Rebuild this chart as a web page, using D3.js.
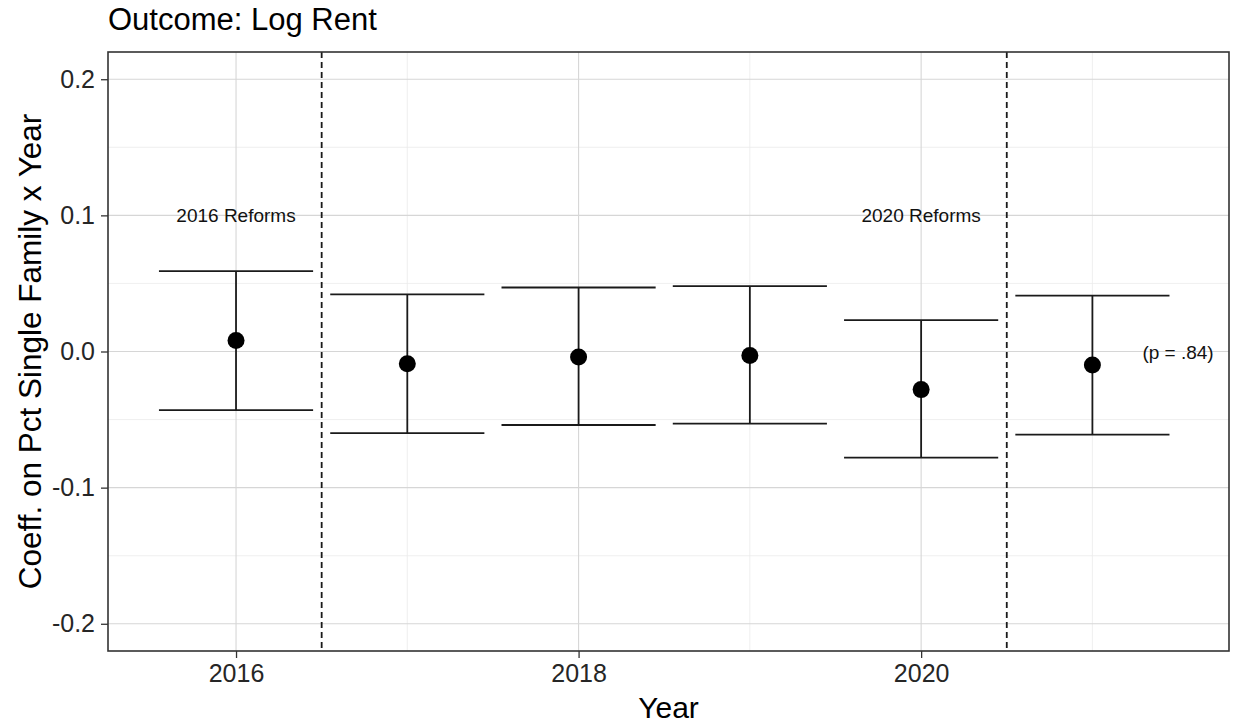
<!DOCTYPE html>
<html>
<head>
<meta charset="utf-8">
<script src="https://cdn.jsdelivr.net/npm/d3@7"></script>
<style>
  body { margin: 0; background: #fff; }
  text { font-family: "Liberation Sans", Arial, Helvetica, sans-serif; }
</style>
</head>
<body>
<svg id="chart"></svg>
<script>
var years = [2016, 2017, 2018, 2019, 2020, 2021]
var estimates = [0.008, -0.009, -0.004, -0.003, -0.028, -0.010]
var lowerCI = [-0.043, -0.060, -0.054, -0.053, -0.078, -0.061]
var upperCI = [0.059, 0.042, 0.047, 0.048, 0.023, 0.041]

var yTicks = [-0.2, -0.1, 0.0, 0.1, 0.2]
var yMinor = [-0.15, -0.05, 0.05, 0.15]
var xTicks = [2016, 2018, 2020]
var xMinor = [2017, 2019, 2021]

var reformYears = [2016.5, 2020.5]
var reformLabels = ["2016 Reforms", "2020 Reforms"]
var reformLabelX = [2016, 2020]
var reformLabelY = [0.1, 0.1]

var pLabel = "(p = .84)"
var pLabelX = 2021.5
var pLabelY = 0.0

var width = 1235, height = 725
// panel edges (window.top is reserved, so prefix them)
var pLeft = 108, pRight = 1229, pTop = 52, pBottom = 651

var svg = d3.select('#chart').attr('width', width).attr('height', height)

var x = d3.scaleLinear().domain([2015.2525, 2021.7975]).range([pLeft, pRight])
var y = d3.scaleLinear().domain([-0.22, 0.22]).range([pBottom, pTop])

// grid, minor first
var grid = svg.append('g').attr('class', 'grid')
grid.selectAll('.hmin').data(yMinor).enter().append('line')
  .attr('x1', pLeft).attr('x2', pRight)
  .attr('y1', function (d) { return y(d) }).attr('y2', function (d) { return y(d) })
  .attr('stroke', '#ebebeb').attr('stroke-width', 0.8)
grid.selectAll('.vmin').data(xMinor).enter().append('line')
  .attr('y1', pTop).attr('y2', pBottom)
  .attr('x1', function (d) { return x(d) }).attr('x2', function (d) { return x(d) })
  .attr('stroke', '#ebebeb').attr('stroke-width', 0.8)
grid.selectAll('.hmaj').data(yTicks).enter().append('line')
  .attr('x1', pLeft).attr('x2', pRight)
  .attr('y1', function (d) { return y(d) }).attr('y2', function (d) { return y(d) })
  .attr('stroke', '#d6d6d6').attr('stroke-width', 1.1)
grid.selectAll('.vmaj').data(xTicks).enter().append('line')
  .attr('y1', pTop).attr('y2', pBottom)
  .attr('x1', function (d) { return x(d) }).attr('x2', function (d) { return x(d) })
  .attr('stroke', '#d6d6d6').attr('stroke-width', 1.1)

// dashed reform lines
svg.selectAll('.reform').data(reformYears).enter().append('line')
  .attr('y1', pTop).attr('y2', pBottom)
  .attr('x1', function (d) { return x(d) }).attr('x2', function (d) { return x(d) })
  .attr('stroke', '#1a1a1a').attr('stroke-width', 1.8)
  .attr('stroke-dasharray', '6,4')

// error bars
var barHalf = 0.45
var bars = svg.append('g').attr('class', 'bars')
years.forEach(function (yr, i) {
  bars.append('line')
    .attr('x1', x(yr)).attr('x2', x(yr))
    .attr('y1', y(upperCI[i])).attr('y2', y(lowerCI[i]))
    .attr('stroke', '#1a1a1a').attr('stroke-width', 1.8)
  bars.append('line')
    .attr('x1', x(yr - barHalf)).attr('x2', x(yr + barHalf))
    .attr('y1', y(upperCI[i])).attr('y2', y(upperCI[i]))
    .attr('stroke', '#1a1a1a').attr('stroke-width', 1.8)
  bars.append('line')
    .attr('x1', x(yr - barHalf)).attr('x2', x(yr + barHalf))
    .attr('y1', y(lowerCI[i])).attr('y2', y(lowerCI[i]))
    .attr('stroke', '#1a1a1a').attr('stroke-width', 1.8)
})

// points
svg.selectAll('.pt').data(years).enter().append('circle')
  .attr('cx', function (d) { return x(d) })
  .attr('cy', function (d, i) { return y(estimates[i]) })
  .attr('r', 8.5)
  .attr('fill', '#000')

// annotations
svg.selectAll('.rlab').data(reformLabels).enter().append('text')
  .attr('x', function (d, i) { return x(reformLabelX[i]) })
  .attr('y', function (d, i) { return y(reformLabelY[i]) + 7 })
  .attr('text-anchor', 'middle')
  .attr('font-size', 19)
  .attr('fill', '#111')
  .text(function (d) { return d })

svg.append('text')
  .attr('x', x(pLabelX)).attr('y', y(pLabelY) + 7)
  .attr('text-anchor', 'middle')
  .attr('font-size', 19)
  .attr('fill', '#111')
  .text(pLabel)

// panel border
svg.append('rect')
  .attr('x', pLeft).attr('y', pTop)
  .attr('width', pRight - pLeft).attr('height', pBottom - pTop)
  .attr('fill', 'none').attr('stroke', '#333').attr('stroke-width', 1.6)

// axes
var yAxis = svg.append('g').attr('transform', 'translate(' + pLeft + ',0)')
  .call(d3.axisLeft(y).tickValues(yTicks).tickSize(7).tickPadding(6)
    .tickFormat(function (d) { return d3.format('.1f')(d).replace('−', '-') }))
var xAxis = svg.append('g').attr('transform', 'translate(0,' + pBottom + ')')
  .call(d3.axisBottom(x).tickValues(xTicks).tickSize(7).tickPadding(6).tickFormat(d3.format('d')))

;[yAxis, xAxis].forEach(function (ax) {
  ax.select('.domain').remove()
  ax.selectAll('line').attr('stroke', '#333').attr('stroke-width', 1.3)
  ax.selectAll('text').attr('font-size', 25).attr('fill', '#262626')
    .attr('font-family', '"Liberation Sans", Arial, sans-serif')
})

// titles
svg.append('text')
  .attr('x', pLeft).attr('y', 30)
  .attr('font-size', 31)
  .attr('fill', '#000')
  .text('Outcome: Log Rent')

svg.append('text')
  .attr('x', (pLeft + pRight) / 2).attr('y', 718)
  .attr('text-anchor', 'middle')
  .attr('font-size', 30)
  .attr('fill', '#000')
  .text('Year')

svg.append('text')
  .attr('transform', 'translate(41,' + ((pTop + pBottom) / 2) + ') rotate(-90)')
  .attr('text-anchor', 'middle')
  .attr('font-size', 31.5)
  .attr('fill', '#000')
  .text('Coeff. on Pct Single Family x Year')
</script>
</body>
</html>
